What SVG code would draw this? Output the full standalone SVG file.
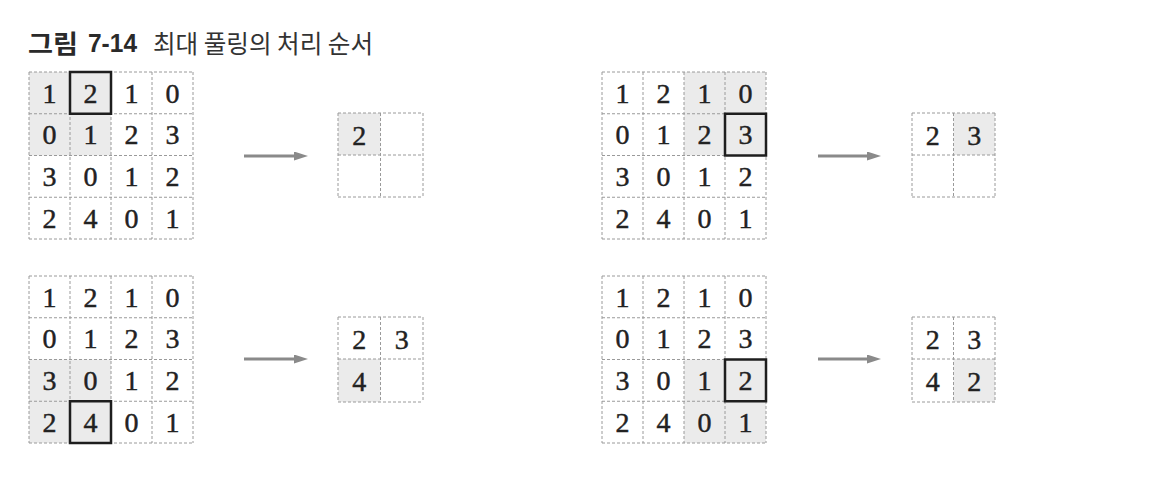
<svg xmlns="http://www.w3.org/2000/svg" width="1156" height="488" viewBox="0 0 1156 488">
<defs>
<style>
.bg{fill:#ffffff}
.sh{fill:#ebebeb}
.gl{stroke:#9a9a9a;stroke-width:1;stroke-dasharray:3 2;fill:none}
.bold{stroke:#1e1e1e;stroke-width:2.5;fill:none}
.d{font-family:"Liberation Serif","Times New Roman",serif;font-size:28px;fill:#222;stroke:#222;stroke-width:0.45;text-anchor:middle}
.arr{stroke:#8a8a8a;stroke-width:3;fill:none}
.t1{font-family:"Noto Sans CJK KR","Noto Sans",sans-serif;font-weight:bold;font-size:25px;fill:#2a2a2a}
.t1n{font-family:"Liberation Sans",Arial,sans-serif;font-weight:bold;font-size:25px;fill:#2a2a2a}
.t2{font-family:"Noto Sans CJK KR","Noto Sans",sans-serif;font-size:25px;fill:#333}
</style>
<marker id="ah" markerUnits="userSpaceOnUse" markerWidth="16" markerHeight="12" refX="2" refY="4.5" orient="auto">
<path d="M0,0 L14,4.5 L0,9 Z" fill="#8a8a8a"/>
</marker>
</defs>
<rect class="bg" x="0" y="0" width="1156" height="488"/>

<g id="title">
<text class="t1" x="28" y="53" textLength="50" lengthAdjust="spacingAndGlyphs">그림</text>
<text class="t1n" x="88" y="52" textLength="49" lengthAdjust="spacingAndGlyphs">7-14</text>
<text class="t2" x="153" y="53" textLength="220" lengthAdjust="spacingAndGlyphs">최대 풀링의 처리 순서</text>
</g>

<g id="connectors">
<line class="arr" x1="244" y1="156" x2="296" y2="156" marker-end="url(#ah)"/>
<line class="arr" x1="818" y1="156" x2="869" y2="156" marker-end="url(#ah)"/>
<line class="arr" x1="244" y1="359" x2="296" y2="359" marker-end="url(#ah)"/>
<line class="arr" x1="818" y1="359" x2="869" y2="359" marker-end="url(#ah)"/>
</g>

<g id="input1">
<rect class="sh" x="29" y="72" width="82" height="83.5"/>
<path class="gl" d="M29,72H193M29,113.75H193M29,155.5H193M29,197.25H193M29,239H193M29,72V239M70,72V239M111,72V239M152,72V239M193,72V239"/>
<rect class="bold" x="70" y="72" width="41" height="41.75"/>
<text class="d" x="49.5" y="102.5">1</text><text class="d" x="90.5" y="102.5">2</text><text class="d" x="131.5" y="102.5">1</text><text class="d" x="172.5" y="102.5">0</text>
<text class="d" x="49.5" y="144.25">0</text><text class="d" x="90.5" y="144.25">1</text><text class="d" x="131.5" y="144.25">2</text><text class="d" x="172.5" y="144.25">3</text>
<text class="d" x="49.5" y="186">3</text><text class="d" x="90.5" y="186">0</text><text class="d" x="131.5" y="186">1</text><text class="d" x="172.5" y="186">2</text>
<text class="d" x="49.5" y="227.75">2</text><text class="d" x="90.5" y="227.75">4</text><text class="d" x="131.5" y="227.75">0</text><text class="d" x="172.5" y="227.75">1</text>
</g>
<g id="output1">
<rect class="sh" x="338" y="113" width="42.5" height="42"/>
<path class="gl" d="M338,113H423M338,155H423M338,197H423M338,113V197M380.5,113V197M423,113V197"/>
<text class="d" x="359.25" y="145">2</text>
</g>

<g id="input2">
<rect class="sh" x="684" y="72" width="82" height="83.5"/>
<path class="gl" d="M602,72H766M602,113.75H766M602,155.5H766M602,197.25H766M602,239H766M602,72V239M643,72V239M684,72V239M725,72V239M766,72V239"/>
<rect class="bold" x="725" y="113.75" width="41" height="41.75"/>
<text class="d" x="622.5" y="102.5">1</text><text class="d" x="663.5" y="102.5">2</text><text class="d" x="704.5" y="102.5">1</text><text class="d" x="745.5" y="102.5">0</text>
<text class="d" x="622.5" y="144.25">0</text><text class="d" x="663.5" y="144.25">1</text><text class="d" x="704.5" y="144.25">2</text><text class="d" x="745.5" y="144.25">3</text>
<text class="d" x="622.5" y="186">3</text><text class="d" x="663.5" y="186">0</text><text class="d" x="704.5" y="186">1</text><text class="d" x="745.5" y="186">2</text>
<text class="d" x="622.5" y="227.75">2</text><text class="d" x="663.5" y="227.75">4</text><text class="d" x="704.5" y="227.75">0</text><text class="d" x="745.5" y="227.75">1</text>
</g>
<g id="output2">
<rect class="sh" x="953.5" y="113" width="41.5" height="42"/>
<path class="gl" d="M912,113H995M912,155H995M912,197H995M912,113V197M953.5,113V197M995,113V197"/>
<text class="d" x="932.75" y="145">2</text><text class="d" x="974.25" y="145">3</text>
</g>

<g id="input3">
<rect class="sh" x="29" y="359.5" width="82" height="83.5"/>
<path class="gl" d="M29,276H193M29,317.75H193M29,359.5H193M29,401.25H193M29,443H193M29,276V443M70,276V443M111,276V443M152,276V443M193,276V443"/>
<rect class="bold" x="70" y="401.25" width="41" height="41.75"/>
<text class="d" x="49.5" y="306.5">1</text><text class="d" x="90.5" y="306.5">2</text><text class="d" x="131.5" y="306.5">1</text><text class="d" x="172.5" y="306.5">0</text>
<text class="d" x="49.5" y="348.25">0</text><text class="d" x="90.5" y="348.25">1</text><text class="d" x="131.5" y="348.25">2</text><text class="d" x="172.5" y="348.25">3</text>
<text class="d" x="49.5" y="390">3</text><text class="d" x="90.5" y="390">0</text><text class="d" x="131.5" y="390">1</text><text class="d" x="172.5" y="390">2</text>
<text class="d" x="49.5" y="431.75">2</text><text class="d" x="90.5" y="431.75">4</text><text class="d" x="131.5" y="431.75">0</text><text class="d" x="172.5" y="431.75">1</text>
</g>
<g id="output3">
<rect class="sh" x="338" y="359" width="42.5" height="43"/>
<path class="gl" d="M338,317H423M338,359H423M338,402H423M338,317V402M380.5,317V402M423,317V402"/>
<text class="d" x="359.25" y="349">2</text><text class="d" x="401.75" y="349">3</text>
<text class="d" x="359.25" y="391">4</text>
</g>

<g id="input4">
<rect class="sh" x="684" y="359.5" width="82" height="83.5"/>
<path class="gl" d="M602,276H766M602,317.75H766M602,359.5H766M602,401.25H766M602,443H766M602,276V443M643,276V443M684,276V443M725,276V443M766,276V443"/>
<rect class="bold" x="725" y="359.5" width="41" height="41.75"/>
<text class="d" x="622.5" y="306.5">1</text><text class="d" x="663.5" y="306.5">2</text><text class="d" x="704.5" y="306.5">1</text><text class="d" x="745.5" y="306.5">0</text>
<text class="d" x="622.5" y="348.25">0</text><text class="d" x="663.5" y="348.25">1</text><text class="d" x="704.5" y="348.25">2</text><text class="d" x="745.5" y="348.25">3</text>
<text class="d" x="622.5" y="390">3</text><text class="d" x="663.5" y="390">0</text><text class="d" x="704.5" y="390">1</text><text class="d" x="745.5" y="390">2</text>
<text class="d" x="622.5" y="431.75">2</text><text class="d" x="663.5" y="431.75">4</text><text class="d" x="704.5" y="431.75">0</text><text class="d" x="745.5" y="431.75">1</text>
</g>
<g id="output4">
<rect class="sh" x="953.5" y="359" width="41.5" height="43"/>
<path class="gl" d="M912,317H995M912,359H995M912,402H995M912,317V402M953.5,317V402M995,317V402"/>
<text class="d" x="932.75" y="349">2</text><text class="d" x="974.25" y="349">3</text>
<text class="d" x="932.75" y="391">4</text><text class="d" x="974.25" y="391">2</text>
</g>
</svg>
